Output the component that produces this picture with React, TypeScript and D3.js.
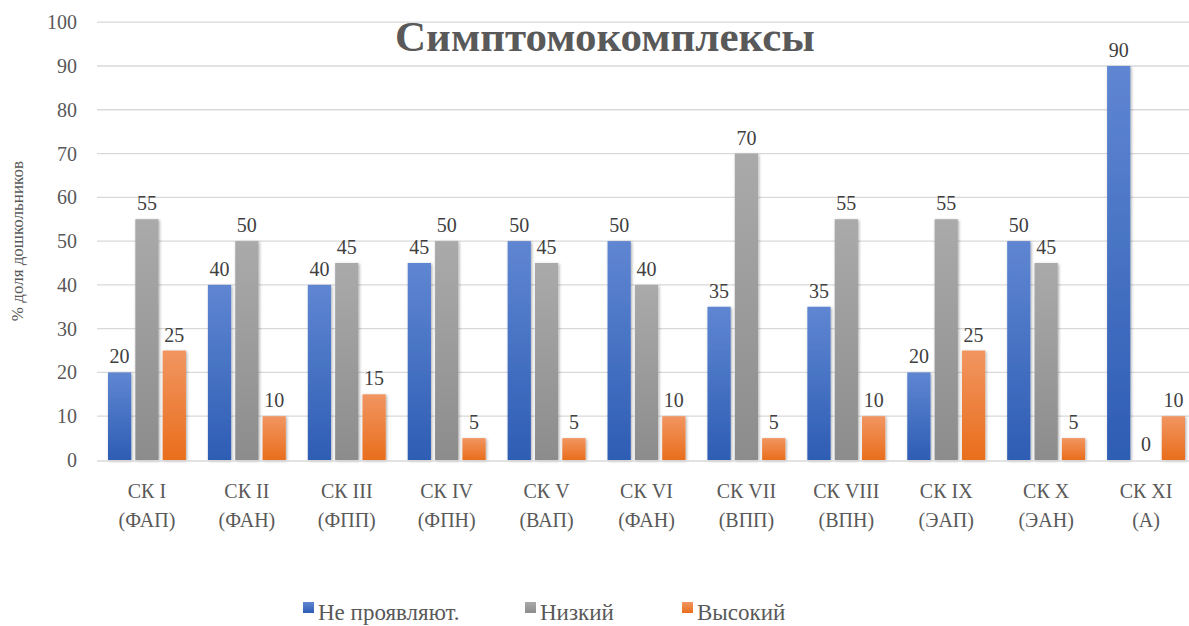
import React, { useEffect, useRef } from 'react'
import * as d3 from 'd3'

const categories = [
  ['СК I', '(ФАП)'], ['СК II', '(ФАН)'], ['СК III', '(ФПП)'], ['СК IV', '(ФПН)'],
  ['СК V', '(ВАП)'], ['СК VI', '(ФАН)'], ['СК VII', '(ВПП)'], ['СК VIII', '(ВПН)'],
  ['СК IX', '(ЭАП)'], ['СК X', '(ЭАН)'], ['СК XI', '(А)'],
]
const notShown = [20, 40, 40, 45, 50, 50, 35, 35, 20, 50, 90]
const low = [55, 50, 45, 50, 45, 40, 70, 55, 55, 45, 0]
const high = [25, 10, 15, 5, 5, 10, 5, 10, 25, 5, 10]
const seriesNames = ['Не проявляют.', 'Низкий', 'Высокий']
const yTicks = [0, 10, 20, 30, 40, 50, 60, 70, 80, 90, 100]

const gradients = [
  { id: 'gBlue', top: '#5f86d2', bottom: '#2e5db4' },
  { id: 'gGray', top: '#aaaaaa', bottom: '#8c8c8c' },
  { id: 'gOrange', top: '#f19561', bottom: '#e96e1c' },
]

export default function App() {
  const svgRef = useRef<SVGSVGElement>(null)
  const width = 1189
  const height = 626

  useEffect(() => {
    const svg = d3.select(svgRef.current)
    svg.selectAll('*').remove()
    const textColor = '#595959'

    const defs = svg.append('defs')
    gradients.forEach(g => {
      const lg = defs.append('linearGradient').attr('id', g.id)
        .attr('x1', 0).attr('y1', 0).attr('x2', 0).attr('y2', 1)
      lg.append('stop').attr('offset', '0%').attr('stop-color', g.top)
      lg.append('stop').attr('offset', '100%').attr('stop-color', g.bottom)
    })
    const filter = defs.append('filter').attr('id', 'shadow')
      .attr('x', '-30%').attr('y', '-10%').attr('width', '160%').attr('height', '130%')
    filter.append('feDropShadow').attr('dx', 1).attr('dy', 1).attr('stdDeviation', 1.5)
      .attr('flood-color', '#000').attr('flood-opacity', 0.35)

    const left = 97
    const right = 1196
    const top = 22.2
    const bottom = 460

    const x = d3.scaleBand<number>().domain(d3.range(categories.length)).range([left, right])
    const y = d3.scaleLinear().domain([0, 100]).range([bottom, top])
    const inner = d3.scaleBand<number>().domain([0, 1, 2]).range([11, x.bandwidth() - 11]).paddingInner(0.15)

    // grid
    svg.append('g').selectAll('line').data(yTicks.filter(t => t > 0)).enter().append('line')
      .attr('x1', left).attr('x2', width)
      .attr('y1', d => y(d)).attr('y2', d => y(d))
      .attr('stroke', '#d9d9d9').attr('stroke-width', 1.3)

    // y tick labels
    svg.append('g').selectAll('text').data(yTicks).enter().append('text')
      .attr('x', 77).attr('y', d => y(d)).attr('dy', '0.35em')
      .attr('text-anchor', 'end')
      .attr('font-size', 20).attr('fill', textColor)
      .text(d => d)

    // axis title
    svg.append('text')
      .attr('transform', `translate(23,${(top + bottom) / 2}) rotate(-90)`)
      .attr('text-anchor', 'middle')
      .attr('font-size', 17).attr('fill', textColor)
      .text('% доля дошкольников')

    // title
    svg.append('text')
      .attr('x', 605).attr('y', 51)
      .attr('text-anchor', 'middle')
      .attr('font-size', 43).attr('font-weight', 'bold').attr('fill', textColor)
      .text('Симптомокомплексы')

    const series = [notShown, low, high]
    series.forEach((vals, si) => {
      const g = svg.append('g')
      g.selectAll('rect').data(vals).enter().append('rect')
        .attr('x', (d, i) => (x(i) as number) + (inner(si) as number))
        .attr('width', inner.bandwidth())
        .attr('y', d => y(d))
        .attr('height', d => bottom - y(d))
        .attr('fill', `url(#${gradients[si].id})`)
        .attr('filter', d => d > 0 ? 'url(#shadow)' : null)
      g.selectAll('text').data(vals).enter().append('text')
        .attr('x', (d, i) => (x(i) as number) + (inner(si) as number) + inner.bandwidth() / 2)
        .attr('y', d => y(d) - 9)
        .attr('text-anchor', 'middle')
        .attr('font-size', 20).attr('fill', '#404040')
        .text(d => d)
    })

    // baseline
    svg.append('line').attr('x1', left).attr('x2', width).attr('y1', bottom + 1).attr('y2', bottom + 1)
      .attr('stroke', '#d9d9d9').attr('stroke-width', 1.5)

    // category labels
    const cat = svg.append('g').selectAll('text').data(categories).enter().append('text')
      .attr('text-anchor', 'middle')
      .attr('font-size', 20).attr('fill', textColor)
    cat.append('tspan').attr('x', (d, i) => (x(i) as number) + x.bandwidth() / 2).attr('y', 498).text(d => d[0])
    cat.append('tspan').attr('x', (d, i) => (x(i) as number) + x.bandwidth() / 2).attr('y', 527).text(d => d[1])

    // legend
    const legendX = [303, 525, 682]
    const legend = svg.append('g')
    seriesNames.forEach((name, i) => {
      legend.append('rect').attr('x', legendX[i]).attr('y', 602).attr('width', 11).attr('height', 11)
        .attr('fill', `url(#${gradients[i].id})`)
      legend.append('text').attr('x', legendX[i] + 15).attr('y', 620)
        .attr('font-size', 23).attr('fill', textColor)
        .text(name)
    })
  }, [])

  return (
    <svg ref={svgRef} width={width} height={height}
      fontFamily="'Liberation Serif', 'DejaVu Serif', serif"
      style={{ position: 'absolute', left: 0, top: 0, background: '#fff' }} />
  )
}
